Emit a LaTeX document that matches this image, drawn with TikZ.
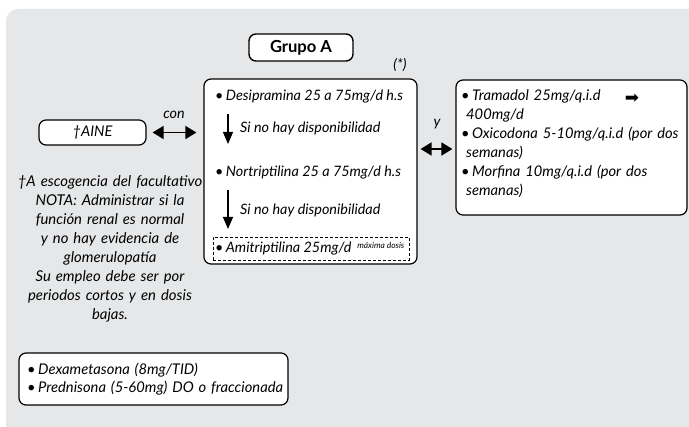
\documentclass[tikz,border=0pt]{standalone}
\usepackage{fontspec}
\setmainfont{Lato}
\newfontfamily\dejavu{DejaVu Sans}
\usetikzlibrary{arrows.meta}
\definecolor{bggray}{HTML}{E6E7E8}
\newlength\mylen
\newcommand\measfs[4]{% #1 macro name, #2 base size, #3 target width, #4 text
  \settowidth\mylen{\normalfont\fontsize{#2}{#2}\selectfont #4}%
  \pgfmathsetmacro#1{#2*#3/\mylen}}
\tikzset{
  bx/.style={draw=black, line width=1.2pt, rounded corners=7pt, fill=white, inner sep=0pt},
  tx/.style={anchor=west, inner sep=0pt},
  dbl/.style={{Triangle[length=11pt,width=13pt]}-{Triangle[length=11pt,width=13pt]}, line width=1.8pt},
  down/.style={-{Triangle[length=12pt,width=10pt]}, line width=1.3pt},
}
\begin{document}%
\measfs{\fsmain}{14}{188}{\itshape •\,Desipramina 25 a 75mg/d h.s}%
\measfs{\fsright}{14}{213}{\itshape •\,Oxicodona 5-10mg/q.i.d (por dos}%
\measfs{\fsnote}{14}{180}{\itshape †A escogencia del facultativo}%
\measfs{\fsbot}{14}{250}{\itshape •\,Prednisona (5-60mg) DO o fraccionada}%
\measfs{\fsaine}{14}{40}{\itshape †AINE}%
\measfs{\fsgrupo}{14}{62}{\bfseries Grupo A}%
\measfs{\fssup}{7}{47}{\itshape máxima dosis}%
\begin{tikzpicture}[x=1pt,y=-1pt]
\useasboundingbox (0,0) rectangle (689,427);
\clip (0,0) rectangle (689,427);
\fill[bggray, rounded corners=12pt] (6,9) rectangle (720,460);

% Grupo A
\node[bx, line width=1.4pt, minimum width=104pt, minimum height=27pt, font=\fontsize{\fsgrupo}{17}\selectfont\bfseries] (grupo) at (301,47.5) {Grupo A};
\node[tx, anchor=center, font=\fontsize{\fsmain}{19}\selectfont\itshape] (star) at (400,65) {(*)};

% main box
\node[bx, minimum width=213pt, minimum height=185pt] (main) at (310.5,171.5) {};
\begin{scope}[every node/.append style={font=\fontsize{\fsmain}{19}\selectfont\itshape}]
\node[tx] (d1) at (215,97) {•\,Desipramina 25 a 75mg/d h.s};
\node[tx] (s1) at (240,128) {Si no hay disponibilidad};
\node[tx] (d2) at (215,173) {•\,Nortriptilina 25 a 75mg/d h.s};
\node[tx] (s2) at (240,210) {Si no hay disponibilidad};
\node[draw, dash pattern=on 3pt off 2pt, line width=0.9pt, minimum width=196pt, minimum height=23pt, inner sep=0pt] (dash) at (311,248.5) {};
\node[tx] (d3) at (215,249) {•\,Amitriptilina 25mg/d\, \raisebox{4pt}{\fontsize{\fssup}{8}\selectfont máxima dosis}};
\end{scope}
\coordinate (a1s) at (228,114);
\coordinate (a1e) at (228,144);
\draw[down] (a1s) -- (a1e);
\coordinate (a2s) at (228,190);
\coordinate (a2e) at (228,229);
\draw[down] (a2s) -- (a2e);

% right box
\node[bx, minimum width=231pt, minimum height=135pt] (rb) at (571.5,147.5) {};
\node[tx, text width=226pt, align=left, anchor=north west, font=\fontsize{\fsright}{19}\selectfont\itshape] (rt) at (461,89.5) {%
•\,Tramadol 25mg/q.i.d\\
\hspace*{5pt}400mg/d\\
•\,Oxicodona 5-10mg/q.i.d (por dos\\
\hspace*{5pt}semanas)\\
•\,Morfina 10mg/q.i.d (por dos\\
\hspace*{5pt}semanas)};
\node[inner sep=0pt, font=\dejavu\fontsize{17}{17}\selectfont] (arr) at (632,99) {➡};

% AINE
\node[bx, minimum width=107pt, minimum height=25pt, font=\fontsize{\fsaine}{15}\selectfont\itshape] (aine) at (92.5,132.5) {†AINE};
\draw[dbl, shorten <=6pt, shorten >=7pt] (aine.east) -- (aine.east -| main.west);
\node[tx, anchor=center, font=\fontsize{\fsmain}{15}\selectfont\itshape] (con) at (174,115) {con};
\draw[dbl, shorten <=3pt, shorten >=3pt] (main.east |- 0,149) -- (rb.west |- 0,149);
\node[tx, anchor=center, font=\fontsize{\fsmain}{15}\selectfont\itshape] (ylab) at (437,124) {y};

% note
\node[tx, anchor=center, align=center, text width=215pt, font=\fontsize{\fsnote}{19}\selectfont\itshape] (note) at (110,249) {%
†A escogencia del facultativo\\
NOTA: Administrar si la\\
función renal es normal\\
y no hay evidencia de\\
glomerulopatía\\
Su empleo debe ser por\\
periodos cortos y en dosis\\
bajas.};

% bottom box
\node[bx, minimum width=269pt, minimum height=52pt] (bb) at (153.5,379) {};
\node[tx, text width=265pt, align=left, anchor=north west, font=\fontsize{\fsbot}{18}\selectfont\itshape] (bt) at (27,362.5) {%
•\,Dexametasona (8mg/TID)\\
•\,Prednisona (5-60mg) DO o fraccionada};
\end{tikzpicture}%
\end{document}
